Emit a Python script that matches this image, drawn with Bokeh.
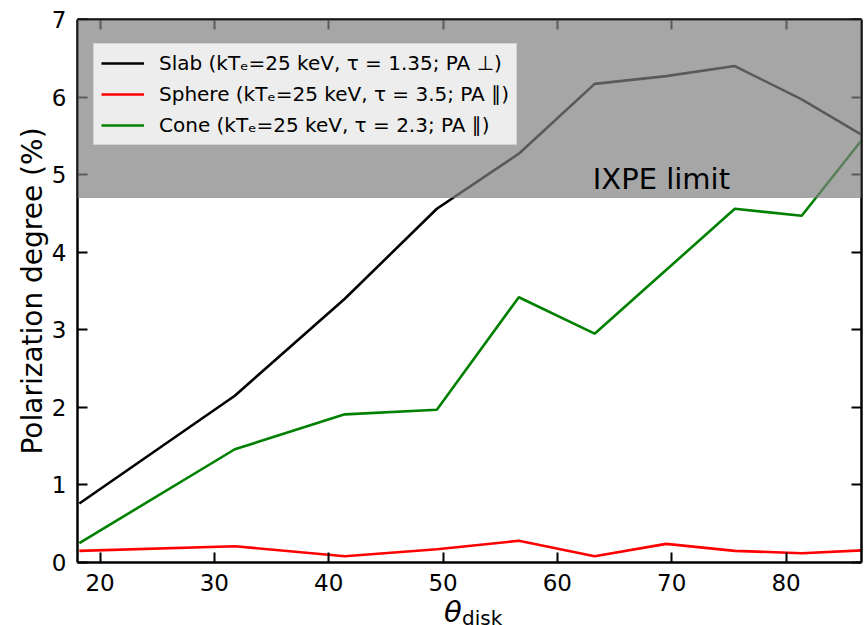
from bokeh.plotting import figure
from bokeh.models import (Range1d, LinearAxis, SingleIntervalTicker, BoxAnnotation,
                          Label, Legend, LegendItem, Div)
from bokeh.layouts import column
from bokeh.embed import file_html
from bokeh.resources import INLINE

# ---- data ----
theta_disk = [18.19, 31.79, 41.41, 49.46, 56.63, 63.26, 69.51, 75.52, 81.37, 87.13]
pd_slab = [0.76, 2.15, 3.40, 4.56, 5.27, 6.17, 6.27, 6.40, 5.97, 5.47]
pd_sphere = [0.15, 0.21, 0.08, 0.17, 0.28, 0.08, 0.24, 0.15, 0.12, 0.16]
pd_cone = [0.25, 1.46, 1.91, 1.97, 3.42, 2.95, 3.77, 4.56, 4.47, 5.54]
series_labels = [
    "Slab (kTₑ=25 keV, τ = 1.35; PA ⊥)",
    "Sphere (kTₑ=25 keV, τ = 3.5; PA ∥)",
    "Cone (kTₑ=25 keV, τ = 2.3; PA ∥)",
]
series_colors = ["black", "red", "green"]
ixpe_limit = 4.7
x_lim = (18.03, 86.6)
y_lim = (0, 7)
x_ticks = [20, 30, 40, 50, 60, 70, 80]
y_ticks = [0, 1, 2, 3, 4, 5, 6, 7]

FONT = "DejaVu Sans"

p = figure(width=865, height=600, x_range=Range1d(*x_lim), y_range=Range1d(*y_lim),
           output_backend="svg", toolbar_location=None,
           min_border_left=77, min_border_right=0, min_border_top=19, min_border_bottom=38)
p.grid.visible = False
p.outline_line_color = None
p.background_fill_color = "white"
p.border_fill_color = "white"

bottom = p.below[0]
left = p.left[0]

renderers = []
for ys, c in zip([pd_slab, pd_sphere, pd_cone], series_colors):
    r = p.line(theta_disk, ys, line_color=c, line_width=2.6)
    renderers.append(r)

# shaded IXPE limit band (on top of lines)
band = BoxAnnotation(bottom=ixpe_limit, top=y_lim[1], fill_color="gray", fill_alpha=0.7,
                     line_color=None)
p.add_layout(band)

p.add_layout(Label(x=63.1, y=4.95, text="IXPE limit", text_font=FONT, text_font_size="29px",
                   text_color="black", text_align="left", text_baseline="alphabetic"))

# mirrored axes (ticks only)
top = LinearAxis()
right = LinearAxis()
p.add_layout(top, "above")
p.add_layout(right, "right")

for ax in [bottom, top]:
    ax.ticker = SingleIntervalTicker(interval=10)
for ax in [left, right]:
    ax.ticker = SingleIntervalTicker(interval=1)

for ax in [bottom, left, top, right]:
    ax.major_tick_in = 10
    ax.major_tick_out = 0
    ax.major_tick_line_width = 2
    ax.major_tick_line_color = "black"
    ax.minor_tick_line_color = None
    ax.axis_line_width = 2.5
    ax.axis_line_color = "black"
    ax.major_label_text_font = FONT
    ax.major_label_text_font_size = "23px"
    ax.major_label_text_color = "black"

top.major_label_overrides = {t: "" for t in x_ticks}
right.major_label_overrides = {t: "" for t in y_ticks}
for ax in [top, right]:
    ax.major_label_text_font_size = "1px"
    ax.major_label_standoff = 0

bottom.major_label_standoff = 7
left.major_label_standoff = 7

left.axis_label = "Polarization degree (%)"
left.axis_label_text_font = FONT
left.axis_label_text_font_size = "28px"
left.axis_label_text_font_style = "normal"
left.axis_label_text_color = "black"
left.axis_label_standoff = 0

legend = Legend(
    items=[LegendItem(label=l, renderers=[r]) for l, r in zip(series_labels, renderers)],
    location=(16, 417), margin=0, padding=7, spacing=7,
    glyph_width=43, glyph_height=22, label_height=22, label_standoff=15,
    label_text_font=FONT, label_text_font_size="20px", label_text_color="black",
    border_line_color="#cccccc", border_line_width=1, border_line_alpha=0.8,
    background_fill_color="white", background_fill_alpha=0.8,
)
p.add_layout(legend)

# x axis label: theta with subscript "disk" (HTML text strip below the figure)
xlabel_html = (
    '<div style="position:relative;width:865px;height:25px;overflow:hidden;background:white;">'
    '<span style="position:absolute;left:444px;top:-2px;font-family:\'DejaVu Sans\';'
    'font-size:29px;line-height:29px;font-style:italic;color:black;white-space:nowrap;">θ</span>'
    '<span style="position:absolute;left:462px;top:8px;font-family:\'DejaVu Sans\';'
    'font-size:20px;line-height:20px;color:black;white-space:nowrap;">disk</span>'
    '</div>'
)
xlabel = Div(text=xlabel_html, width=865, height=25, margin=0)

layout = column(p, xlabel, spacing=0, margin=0)

open("out.html", "w").write(file_html(layout, INLINE))
